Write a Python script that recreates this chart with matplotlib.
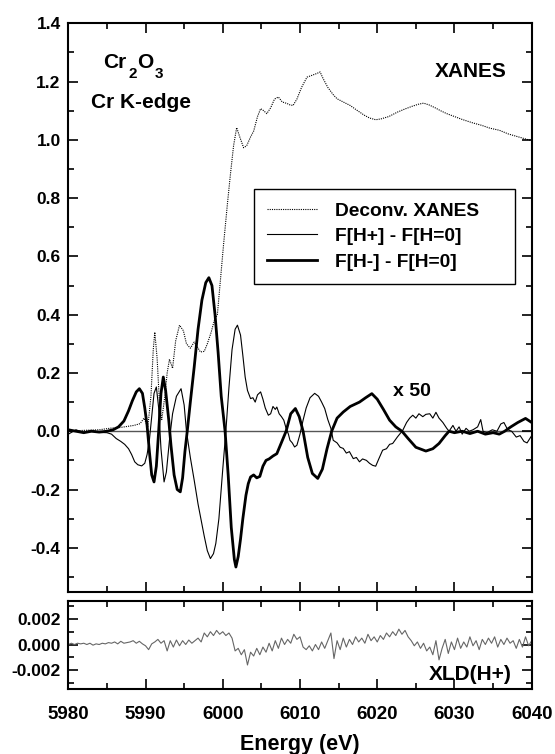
"""Cr2O3 Cr K-edge XANES with x50 difference spectra and XLD(H+) panel."""

import numpy as np
import matplotlib
matplotlib.use('Agg')
import matplotlib.pyplot as plt
from matplotlib.ticker import MultipleLocator

plt.rcParams['font.family'] = 'Liberation Sans'
plt.rcParams['font.weight'] = 'bold'
plt.rcParams['axes.unicode_minus'] = False

# Deconvoluted XANES
e_xanes = [5980, 5982, 5984, 5985.6, 5986.5, 5987.5, 5988.5, 5989.3, 5989.8, 5990.3,
           5990.7, 5991.0, 5991.2, 5991.5, 5991.8, 5992.1, 5992.5, 5992.8, 5993.1, 5993.5,
           5993.9, 5994.4, 5994.9, 5995.3, 5995.8, 5996.3, 5996.7, 5997.1, 5997.6, 5998.0,
           5998.5, 5998.9, 5999.3, 5999.7, 6000.1, 6000.6, 6001.0, 6001.4, 6001.8, 6002.2,
           6002.7, 6003.1, 6003.6, 6004.0, 6004.5, 6004.9, 6005.3, 6005.7, 6006.2, 6006.7,
           6007.2, 6007.7, 6008.3, 6008.7, 6009.1, 6009.6, 6010.2, 6010.9, 6011.6, 6012.2,
           6012.6, 6013.0, 6013.6, 6014.3, 6014.8, 6015.6, 6016.5, 6017.4, 6018.3, 6019.0,
           6019.8, 6020.5, 6021.5, 6022.6, 6023.5, 6024.5, 6025.3, 6026.0, 6026.7, 6027.5,
           6028.2, 6029.0, 6030.0, 6031.0, 6032.4, 6033.5, 6034.6, 6035.8, 6037.0, 6038.3,
           6039.6, 6040]
xanes = [0.0, 0.003, 0.005, 0.011, 0.012, 0.016, 0.02, 0.026, 0.045, 0.015,
         0.12, 0.28, 0.34, 0.25, 0.1, 0.04, 0.12, 0.2, 0.247, 0.216,
         0.31, 0.364, 0.345, 0.30, 0.285, 0.306, 0.29, 0.272, 0.274, 0.30,
         0.34, 0.38, 0.40, 0.52, 0.64, 0.78, 0.884, 0.98, 1.042, 1.01,
         0.973, 0.98, 1.01, 1.03, 1.08, 1.107, 1.10, 1.09, 1.11, 1.14,
         1.147, 1.13, 1.125, 1.12, 1.118, 1.14, 1.18, 1.215, 1.222, 1.228,
         1.233, 1.21, 1.18, 1.155, 1.141, 1.13, 1.118, 1.101, 1.085, 1.075,
         1.069, 1.072, 1.08, 1.095, 1.105, 1.115, 1.122, 1.126, 1.12, 1.11,
         1.10, 1.09, 1.08, 1.07, 1.058, 1.05, 1.04, 1.033, 1.02, 1.01,
         1.0, 0.998]

# F[H+] - F[H=0], x50
e_plus = [5980, 5981, 5982, 5983, 5984, 5985, 5985.6, 5986.2, 5986.8, 5987.3,
          5987.8, 5988.2, 5988.6, 5989.0, 5989.5, 5989.9, 5990.2, 5990.5, 5990.8, 5991.1,
          5991.4, 5991.7, 5992.0, 5992.4, 5992.7, 5993.1, 5993.5, 5994.0, 5994.6, 5995.0,
          5995.3, 5995.8, 5996.3, 5996.8, 5997.2, 5997.6, 5998.0, 5998.4, 5998.8, 5999.1,
          5999.5, 6000.0, 6000.4, 6000.8, 6001.2, 6001.6, 6001.9, 6002.3, 6002.6, 6002.9,
          6003.2, 6003.6, 6003.9, 6004.2, 6004.5, 6004.9, 6005.2, 6005.5, 6005.9, 6006.2,
          6006.5, 6006.8, 6007.0, 6007.3, 6007.6, 6007.9, 6008.2, 6008.5, 6008.7, 6009.0,
          6009.3, 6009.6, 6010.0, 6010.4, 6010.8, 6011.3, 6011.9, 6012.4, 6012.8, 6013.2,
          6013.6, 6014.0, 6014.3, 6014.8, 6015.2, 6015.6, 6016.0, 6016.4, 6016.9, 6017.3,
          6017.7, 6018.1, 6018.6, 6019.0, 6019.4, 6019.8, 6020.2, 6020.7, 6021.2, 6021.6,
          6022.0, 6022.6, 6023.3, 6023.8, 6024.2, 6024.6, 6025.0, 6025.4, 6025.9, 6026.3,
          6026.8, 6027.2, 6027.6, 6028.0, 6028.5, 6029.0, 6029.3, 6029.8, 6030.2, 6030.6,
          6031.0, 6031.5, 6031.9, 6032.4, 6033.0, 6033.4, 6033.7, 6034.2, 6034.9, 6035.5,
          6036.0, 6036.4, 6036.9, 6037.4, 6038.0, 6038.5, 6039.0, 6039.4, 6040]
f_plus = [-0.01, 0.005, -0.005, 0.003, -0.004, -0.005, -0.01, -0.025, -0.035, -0.045,
          -0.06, -0.08, -0.105, -0.115, -0.119, -0.11, -0.08, -0.03, 0.05, 0.13,
          0.152, 0.08, -0.06, -0.174, -0.14, -0.03, 0.06, 0.12, 0.146, 0.09,
          0.0, -0.09, -0.168, -0.25, -0.305, -0.36, -0.41, -0.437, -0.42, -0.385,
          -0.30, -0.13, 0.0, 0.15, 0.28, 0.35, 0.364, 0.33, 0.26, 0.186,
          0.14, 0.112, 0.115, 0.10, 0.125, 0.135, 0.11, 0.08, 0.055, 0.06,
          0.085, 0.075, 0.083, 0.06, 0.05, 0.038, 0.01, -0.01, -0.031, -0.04,
          -0.054, -0.048, -0.01, 0.038, 0.08, 0.115, 0.13, 0.12, 0.10, 0.078,
          0.04, 0.01, -0.031, -0.04, -0.055, -0.059, -0.075, -0.07, -0.094, -0.09,
          -0.105, -0.095, -0.1, -0.11, -0.117, -0.12, -0.095, -0.065, -0.06, -0.045,
          -0.042, -0.02, 0.003, 0.03, 0.045, 0.055, 0.045, 0.06, 0.05, 0.058,
          0.06, 0.045, 0.065, 0.045, 0.03, 0.01, 0.0, 0.02, 0.0, 0.015,
          -0.01, 0.01, 0.0, 0.005, 0.015, 0.04, 0.0, -0.005, 0.005, 0.0,
          0.025, 0.03, 0.005, 0.0, -0.02, -0.015, -0.035, -0.04, -0.015]

# F[H-] - F[H=0], x50
e_minus = [5980, 5981, 5982, 5983, 5984, 5985, 5985.8, 5986.5, 5987.2, 5987.8,
           5988.3, 5988.8, 5989.2, 5989.6, 5989.9, 5990.2, 5990.5, 5990.8, 5991.1, 5991.4,
           5991.7, 5992.0, 5992.3, 5992.6, 5993.0, 5993.3, 5993.7, 5994.1, 5994.5, 5994.8,
           5995.1, 5995.4, 5995.8, 5996.3, 5996.8, 5997.3, 5997.8, 5998.2, 5998.6, 5999.0,
           5999.4, 5999.8, 6000.3, 6000.7, 6001.1, 6001.5, 6001.7, 6002.0, 6002.3, 6002.6,
           6003.0, 6003.3, 6003.6, 6004.0, 6004.4, 6004.8, 6005.2, 6005.6, 6006.0, 6006.5,
           6007.0, 6007.5, 6008.2, 6008.8, 6009.4, 6009.9, 6010.4, 6011.0, 6011.6, 6012.3,
           6012.9, 6013.5, 6014.1, 6014.8, 6015.6, 6016.5, 6017.7, 6018.5, 6019.3, 6020.0,
           6020.8, 6021.6, 6022.4, 6023.2, 6024.0, 6025.0, 6026.3, 6027.2, 6028.0, 6028.8,
           6029.3, 6030.0, 6031.0, 6032.0, 6033.0, 6034.0, 6035.0, 6035.8, 6036.5, 6037.3,
           6038.2, 6039.2, 6040]
f_minus = [0.005, 0.0, -0.005, 0.0, -0.003, 0.0, 0.005, 0.015, 0.035, 0.07,
           0.105, 0.135, 0.146, 0.13, 0.08, 0.02, -0.07, -0.15, -0.174, -0.12,
           0.0, 0.13, 0.186, 0.14, 0.04, -0.05, -0.15, -0.2, -0.208, -0.16,
           -0.07, 0.0, 0.1, 0.22, 0.35, 0.45, 0.51, 0.527, 0.50, 0.40,
           0.27, 0.12, 0.0, -0.15, -0.33, -0.44, -0.466, -0.43, -0.37, -0.30,
           -0.22, -0.18, -0.157, -0.15, -0.16, -0.155, -0.12, -0.10, -0.095, -0.085,
           -0.077, -0.045, 0.0, 0.06, 0.078, 0.05, 0.0, -0.09, -0.145, -0.162,
           -0.13, -0.06, 0.0, 0.045, 0.066, 0.085, 0.1, 0.115, 0.129, 0.11,
           0.075, 0.038, 0.015, 0.0, -0.025, -0.055, -0.068, -0.06, -0.042, -0.015,
           0.0, -0.005, 0.0, -0.008, 0.0, -0.01, -0.005, -0.01, 0.0, 0.015,
           0.03, 0.044, 0.03]

# XLD(H+) in units of 1e-3, sampled every 0.4 eV from 5980 eV
xld_milli = [0.0, 0.1, 0.0, 0.1, 0.05, 0.1, 0.0, 0.1, -0.05, 0.05,
             0.0, 0.1, 0.05, 0.15, 0.1, 0.2, 0.05, 0.25, 0.1, 0.15, 0.2,
             0.3, 0.1, 0.25, 0.05, -0.1, -0.4, 0.05, 0.2, 0.4, 0.1,
             0.3, -0.5, 0.3, -0.2, 0.35, -0.1, 0.3, 0.0, 0.35, 0.1,
             0.3, 0.5, 0.2, 0.9, 0.6, 1.0, 0.7, 1.1, 0.8, 1.0,
             0.7, 0.9, 0.5, -0.5, -0.3, -0.8, -0.4, -1.6, -0.6, -0.9,
             -0.3, -0.8, -0.2, -0.6, 0.1, -0.5, 0.3, -0.3, 0.5, 0.0,
             0.4, 0.1, 0.8, 0.4, 0.6, -0.2, -0.4, -0.1, -0.5, 0.0,
             -0.4, 0.2, -0.3, 0.3, 0.9, -1.1, 0.3, -0.4, 0.5, -0.2,
             0.4, 0.0, 0.6, 0.2, 0.5, 0.1, 0.8, 0.3, 0.6, 0.2,
             0.7, 0.4, 0.9, 0.6, 1.0, 0.7, 1.2, 0.8, 1.1, 0.6,
             0.3, -0.1, 0.2, -0.3, 0.1, -0.5, -0.2, -0.8, 0.3, -1.2,
             -0.3, 0.4, -0.7, 0.2, -0.4, 0.5, -0.3, 0.2, -0.2, 0.6,
             -0.1, 0.3, -0.4, 0.4, 0.0, 0.5, 0.1, 0.6, -0.2, 0.4,
             0.0, 0.5, 0.1, 0.3, -0.3, 0.4, -0.2, 0.6, -0.1, 0.3]
e_xld = 5980 + 0.4 * np.arange(len(xld_milli))
xld = np.array(xld_milli) * 1e-3

W, H = 555, 754
fig = plt.figure(figsize=(W / 100, H / 100), dpi=100)
x0, x1 = 68.3, 531.7
ax = fig.add_axes([x0 / W, 1 - 591.5 / H, (x1 - x0) / W, (591.5 - 23.3) / H])
ax2 = fig.add_axes([x0 / W, 1 - 689.3 / H, (x1 - x0) / W, (689.3 - 601) / H])

ax.axhline(0, color='#555555', lw=1.0, zorder=1)
ax.plot(e_xanes, xanes, color='black', lw=0.8, ls=(0, (1, 1)), label='Deconv. XANES')
ax.plot(e_plus, f_plus, color='black', lw=0.8, label='F[H+] - F[H=0]')
ax.plot(e_minus, f_minus, color='black', lw=2.0, label='F[H-] - F[H=0]')

ax.set_xlim(5980, 6040)
ax.set_ylim(-0.55, 1.4)
ax.yaxis.set_minor_locator(MultipleLocator(0.1))
ax.xaxis.set_major_locator(MultipleLocator(10))
ax.xaxis.set_minor_locator(MultipleLocator(5))
ax.set_yticks(np.arange(-0.4, 1.41, 0.2))
ax.yaxis.set_major_formatter(plt.FuncFormatter(lambda v, p: '%.1f' % v))
ax.tick_params(labelbottom=False)

# Cr2O3 with dropped subscripts
t_cr = ax.text(5984.5, 1.248, 'Cr', fontsize=15, fontweight='bold', va='baseline')
s2 = ax.annotate('2', xy=(1, 0), xycoords=t_cr, xytext=(1.5, -6.5),
                 textcoords='offset points', fontsize=11, fontweight='bold', va='bottom')
t_o = ax.annotate('O', xy=(1, 0), xycoords=(s2, t_cr), xytext=(0.3, 0),
                  textcoords='offset points', fontsize=15, fontweight='bold', va='bottom')
ax.annotate('3', xy=(1, 0), xycoords=t_o, xytext=(1.0, -6.5),
            textcoords='offset points', fontsize=11, fontweight='bold', va='bottom')

ax.text(5982.9, 1.108, 'Cr K-edge', fontsize=15, fontweight='bold', va='baseline')
ax.text(6027.4, 1.214, 'XANES', fontsize=15, fontweight='bold', va='baseline')
ax.text(6022.1, 0.12, 'x 50', fontsize=14, fontweight='bold', va='baseline')

leg = ax.legend(loc='upper left', bbox_to_anchor=(0.4005, 0.542, 0.563, 0.166),
                mode='expand', borderaxespad=0,
                fancybox=False, edgecolor='black', framealpha=1,
                prop={'size': 13.8, 'weight': 'bold'}, handlelength=2.6,
                handletextpad=0.95, labelspacing=0.42, borderpad=0.68)
leg.get_frame().set_linewidth(1.0)

ax2.plot(e_xld, xld, color='#666666', lw=0.8)
ax2.set_xlim(5980, 6040)
ax2.set_ylim(-0.0035, 0.0034)
ax2.yaxis.set_major_locator(MultipleLocator(0.002))
ax2.yaxis.set_minor_locator(MultipleLocator(0.001))
ax2.xaxis.set_major_locator(MultipleLocator(10))
ax2.xaxis.set_minor_locator(MultipleLocator(5))
ax2.yaxis.set_major_formatter(plt.FuncFormatter(lambda v, p: '%.3f' % v))
ax2.text(6026.7, -0.00278, 'XLD(H+)', fontsize=15, fontweight='bold', va='baseline')
ax2.set_xlabel('Energy (eV)', fontsize=15.5, fontweight='bold', labelpad=8)

for a in (ax, ax2):
    a.tick_params(which='both', direction='in', top=True, right=True, width=1.2)
    a.tick_params(which='major', length=7)
    a.tick_params(which='minor', length=4)
    a.tick_params(axis='y', labelsize=12.5, pad=5.5)
    a.tick_params(axis='x', labelsize=13.5, pad=12)
    for s in a.spines.values():
        s.set_linewidth(1.5)

fig.savefig('out.png', dpi=100)
